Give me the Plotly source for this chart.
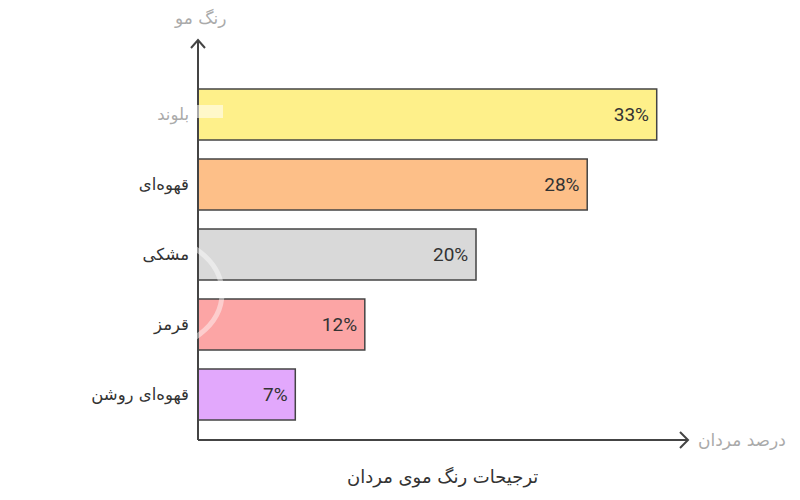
import plotly.graph_objects as go

# hair colour preferences of men (percent)
categories = ["بلوند", "قهوه‌ای", "مشکی", "قرمز", "قهوه‌ای روشن"]
values = [33, 28, 20, 12, 7]
bar_colors = ["#FEF08A", "#FDBF88", "#D9D9D9", "#FCA5A5", "#E2A8FC"]
value_labels = [f"{v}%\u00a0" for v in values]

x_title = "درصد مردان"
y_title = "رنگ مو"
chart_title = "ترجیحات رنگ موی مردان"

# first label is faded in the reference
tick_text = ['<span style="color:#aaaaaa">' + categories[0] + '</span>'] + categories[1:]

fig = go.Figure()
fig.add_trace(go.Bar(
    x=values,
    y=categories,
    orientation="h",
    marker=dict(color=bar_colors, line=dict(color="#444444", width=1.5)),
    text=value_labels,
    textposition="inside",
    insidetextanchor="end",
    textfont=dict(size=19, color="#333333", family="Roboto"),
    cliponaxis=False,
))

# the page puts the figure 8px in from the window edge, so screen px -> paper
def px_x(p):
    return (p - 198) / 490

def px_y(p):
    return (440 - p) / 400

ax_col = "#444444"
shapes = [
    # axes
    dict(type="line", xref="paper", yref="paper", x0=0, y0=0, x1=0, y1=1,
         line=dict(color=ax_col, width=2)),
    dict(type="line", xref="paper", yref="paper", x0=0, y0=0, x1=1, y1=0,
         line=dict(color=ax_col, width=2)),
    # arrow heads
    dict(type="path", xref="paper", yref="paper",
         path=f"M {px_x(191)} {px_y(48)} L 0 1 L {px_x(205)} {px_y(48)}",
         line=dict(color=ax_col, width=2)),
    dict(type="path", xref="paper", yref="paper",
         path=f"M {px_x(680)} {px_y(432)} L 1 0 L {px_x(680)} {px_y(448)}",
         line=dict(color=ax_col, width=2)),
    # faint white artefacts over the axis
    dict(type="circle", xref="paper", yref="paper",
         x0=px_x(147 - 75), x1=px_x(147 + 75), y0=px_y(293 + 58), y1=px_y(293 - 58),
         line=dict(color="white", width=5), opacity=0.45, layer="above"),
    dict(type="rect", xref="paper", yref="paper",
         x0=px_x(196), x1=px_x(223), y0=px_y(118), y1=px_y(105),
         fillcolor="white", line=dict(width=0), opacity=0.55, layer="above"),
]

annotations = [
    dict(text=y_title, xref="paper", yref="paper", x=px_x(200), y=px_y(18),
         yanchor="middle", xanchor="center",
         showarrow=False, font=dict(size=17, color="#aaaaaa")),
    dict(text=x_title, xref="paper", yref="paper", x=px_x(742), y=0,
         yanchor="middle", xanchor="center",
         showarrow=False, font=dict(size=17, color="#aaaaaa")),
    dict(text=chart_title, xref="paper", yref="paper", x=px_x(442), y=px_y(477),
         yanchor="middle", xanchor="center",
         showarrow=False, font=dict(size=18, color="#333333")),
]

fig.update_layout(
    width=800, height=500,
    margin=dict(l=190, r=120, t=32, b=68),
    paper_bgcolor="white", plot_bgcolor="white",
    font=dict(family="DejaVu Sans, Noto Sans, Roboto", size=16, color="#333333"),
    bargap=0.27,
    showlegend=False,
    shapes=shapes,
    annotations=annotations,
    xaxis=dict(range=[0, 35.25], showgrid=False, zeroline=False,
               showticklabels=False, showline=False),
    yaxis=dict(range=[4.65, -1.064], showgrid=False, zeroline=False,
               tickmode="array", tickvals=categories, ticktext=tick_text,
               ticks="", ticklabelstandoff=8, showline=False,
               tickfont=dict(size=16.5, color="#333333")),
)

fig.write_html("out.html")
